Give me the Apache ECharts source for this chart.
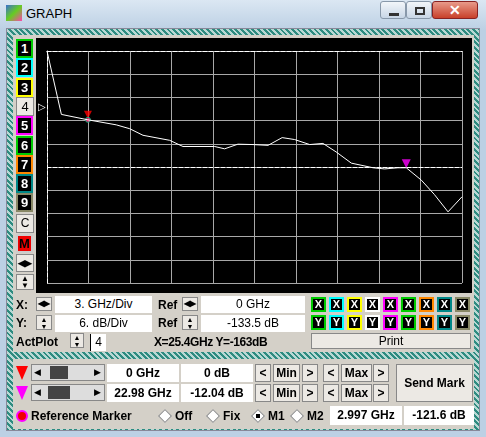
<!DOCTYPE html>
<html><head><meta charset="utf-8">
<script src="https://cdn.jsdelivr.net/npm/echarts@6/dist/echarts.min.js"></script>
<style>
*{box-sizing:border-box}
body{margin:0;width:486px;height:437px;overflow:hidden;font-family:Arial,"Liberation Sans",sans-serif;font-size:12px;background:#bcd0e4}
.abs{position:absolute}
#title{left:0;top:0;width:486px;height:30px;background:linear-gradient(#dbe7f3,#bcd0e4)}
#body{left:6px;top:28px;width:474px;height:403px;background:repeating-linear-gradient(45deg,#2e8b80 0 2px,#b8d8d4 2px 4px);border:1px solid #889}
.panel{background:#d4d0c8}
.btn{position:absolute;background:#ece9e4;border:1px solid #888;text-align:center;font-weight:bold;color:#000}
.box{position:absolute;background:#fff;text-align:center;font-weight:bold;}
.lb{position:absolute;font-weight:bold;}
.lk{position:absolute;width:17px;height:19px;background:#000;color:#fff;font-weight:bold;text-align:center;line-height:15px;font-size:13px;border:2px solid}
.xy{position:absolute;width:15px;height:15px;background:#000;color:#fff;font-weight:bold;text-align:center;line-height:11px;font-size:11px;border:2px solid}
</style></head><body>
<div id="title" class="abs"></div>
<div class="abs" style="left:6px;top:5px;width:16px;height:16px;background:linear-gradient(135deg,#3a6fd0,#6c2,#f4a)"></div>
<div class="abs" style="left:26px;top:6px;font-size:13px;color:#000">GRAPH</div>
<div class="abs" style="left:380px;top:1px;width:26px;height:18px;border:1px solid #8898aa;border-radius:3px;background:linear-gradient(#f2f6fa,#c8d6e6)"><div class="abs" style="left:8px;top:11px;width:10px;height:3px;background:#333"></div></div>
<div class="abs" style="left:406px;top:1px;width:26px;height:18px;border:1px solid #8898aa;border-radius:3px;background:linear-gradient(#f2f6fa,#c8d6e6)"><div class="abs" style="left:8px;top:5px;width:10px;height:8px;border:2px solid #333"></div></div>
<div class="abs" style="left:432px;top:1px;width:46px;height:18px;border:1px solid #822;border-radius:3px;background:linear-gradient(#e89a8a,#c8402a);color:#fff;font-weight:bold;text-align:center;font-size:14px;line-height:17px">✕</div>
<div id="body" class="abs"></div>
<div class="abs panel" style="left:13px;top:35px;width:461px;height:258px"></div>
<div class="abs" style="left:36px;top:38px;width:436px;height:255px;background:#000"></div>
<div id="c" class="abs" style="left:36px;top:38px;width:436px;height:255px"></div>
<div class="abs panel" style="left:13px;top:293px;width:461px;height:59px"></div>
<div class="abs panel" style="left:13px;top:359px;width:461px;height:70px"></div>
<div id="ui"></div>
<script>
const freqGHz=[0,1.04,2.96,5.01,5.98,6.94,8.87,9.83,12.12,12.84,13.8,14.9,15.98,17.0,17.9,18.99,19.95,20.9,22.0,23.57,24.4,25.37,25.97,27.06,28.0,28.99,30];
const levelDb=[0,-16.4,-17.8,-19.1,-20.1,-21.8,-23.1,-24.7,-24.7,-25.3,-24.1,-24.2,-24.4,-22.4,-22.9,-24.2,-23.9,-26.1,-29.0,-30.2,-30.5,-30.2,-30.2,-33.4,-37.1,-41.6,-37.7];
const refLevel=-30;
const marker1=[2.96,-17.8], marker2=[25.97,-30.2];
const chart=echarts.init(document.getElementById('c'));
chart.setOption({animation:false,
grid:{left:11,top:13,width:415,height:232},
xAxis:{type:'value',min:0,max:30,interval:3,axisLabel:{show:false},axisTick:{show:false},axisLine:{show:true,lineStyle:{color:'#fff',type:'dashed'}},splitLine:{lineStyle:{color:'#a8a8a8',width:1}}},
yAxis:{type:'value',min:-60,max:0,interval:6,axisLabel:{show:false},axisTick:{show:false},axisLine:{show:true,lineStyle:{color:'#fff',type:'dashed'}},splitLine:{lineStyle:{color:'#a8a8a8',width:1}}},
series:[
{type:'line',data:freqGHz.map((f,i)=>[f,levelDb[i]]),symbol:'none',lineStyle:{color:'#fff',width:1},
 markLine:{silent:true,symbol:'none',label:{show:false},lineStyle:{color:'#fff',type:'dashed',width:1},data:[{yAxis:refLevel}]}},
{type:'scatter',data:[marker1],symbol:'triangle',symbolRotate:180,symbolSize:8,symbolOffset:[0,-5],itemStyle:{color:'#f00'}},
{type:'scatter',data:[marker1],symbol:'circle',symbolSize:5,itemStyle:{color:'#f06',borderColor:'#0c8',borderWidth:1}},
{type:'scatter',data:[marker2],symbol:'triangle',symbolRotate:180,symbolSize:9,symbolOffset:[0,-4],itemStyle:{color:'#f0f'}}
]});
let h='';
const cols=['#0c0','#0ff','#ff0','#fff','#f0f','#0c0','#f80','#088','#886'];
for(let i=0;i<9;i++){
 const y=39+i*19.3;
 if(i==3) h+=`<div class="btn" style="left:16px;top:${y}px;width:18px;height:19px;font-size:13px;font-weight:normal;line-height:17px">4</div>`;
 else h+=`<div class="lk" style="left:16px;top:${y}px;border-color:${cols[i]}">${i+1}</div>`;
}
h+=`<div class="btn" style="left:16px;top:214px;width:18px;height:19px;font-weight:normal;line-height:17px">C</div>`;
h+=`<div class="lk" style="left:16px;top:234px;background:#e00;color:#000;border-color:#ccc">M</div>`;
h+=`<div class="btn" style="left:16px;top:254px;width:18px;height:18px;font-size:9px;line-height:16px">◀▶</div>`;
h+=`<div class="btn" style="left:16px;top:274px;width:18px;height:16px;font-size:8px;line-height:7px">▲<br>▼</div>`;
h+=`<div class="abs" style="left:38px;top:101px;color:#fff;font-size:10px">▷</div>`;
h+=`<div class="lb" style="left:16px;top:298px">X:</div><div class="lb" style="left:16px;top:316px">Y:</div><div class="lb" style="left:16px;top:335px">ActPlot</div>`;
h+=`<div class="btn" style="left:36px;top:297px;width:16px;height:14px;font-size:8px;line-height:12px">◀▶</div>`;
h+=`<div class="btn" style="left:36px;top:315px;width:16px;height:15px;font-size:7px;line-height:7px">▲<br>▼</div>`;
h+=`<div class="btn" style="left:70px;top:333px;width:14px;height:15px;font-size:7px;line-height:7px">▲<br>▼</div>`;
h+=`<div class="box" style="left:55px;top:296px;width:97px;height:17px;line-height:17px;font-weight:normal">3.  GHz/Div</div>`;
h+=`<div class="box" style="left:55px;top:315px;width:97px;height:17px;line-height:17px;font-weight:normal">6.  dB/Div</div>`;
h+=`<div class="box" style="left:90px;top:334px;width:16px;height:17px;line-height:17px;font-weight:normal;border-left:1px solid #000">4</div>`;
h+=`<div class="lb" style="left:158px;top:298px">Ref</div><div class="lb" style="left:158px;top:316px">Ref</div>`;
h+=`<div class="btn" style="left:182px;top:297px;width:16px;height:14px;font-size:8px;line-height:12px">◀▶</div>`;
h+=`<div class="btn" style="left:182px;top:315px;width:16px;height:15px;font-size:7px;line-height:7px">▲<br>▼</div>`;
h+=`<div class="box" style="left:201px;top:296px;width:104px;height:17px;line-height:17px;font-weight:normal">0  GHz</div>`;
h+=`<div class="box" style="left:201px;top:315px;width:104px;height:17px;line-height:17px;font-weight:normal">-133.5  dB</div>`;
h+=`<div class="lb" style="left:154px;top:335px;letter-spacing:-0.4px">X=25.4GHz Y=-163dB</div>`;
for(let i=0;i<9;i++){h+=`<div class="xy" style="left:${311+i*18}px;top:297px;border-color:${cols[i]}">X</div><div class="xy" style="left:${311+i*18}px;top:315px;border-color:${cols[i]}">Y</div>`;}
h+=`<div class="btn" style="left:311px;top:333px;width:160px;height:16px;line-height:14px;font-weight:normal">Print</div>`;
const rows=[[364,'#f00','0 GHz','0 dB',[50,68]],[384,'#f0f','22.98 GHz','-12.04 dB',[48,70]]];
rows.forEach(([y,c,a,b,k])=>{
 h+=`<div class="abs" style="left:16px;top:${y+2}px;width:0;height:0;border-left:6px solid transparent;border-right:6px solid transparent;border-top:14px solid ${c}"></div>`;
 h+=`<div class="abs" style="left:31px;top:${y}px;width:74px;height:17px;background:#ddd;border:1px solid #888"></div>`;
 h+=`<div class="abs" style="left:${k[0]}px;top:${y+2}px;width:${k[1]-k[0]}px;height:13px;background:#444"></div>`;
 h+=`<div class="abs" style="left:34px;top:${y+3}px;font-size:9px">◀</div><div class="abs" style="left:94px;top:${y+3}px;font-size:9px">▶</div>`;
 h+=`<div class="box" style="left:107px;top:${y}px;width:72px;height:18px;line-height:18px">${a}</div>`;
 h+=`<div class="box" style="left:181px;top:${y}px;width:72px;height:18px;line-height:18px">${b}</div>`;
 [[255,'&lt;',16],[273,'Min',27],[302,'&gt;',16],[323,'&lt;',16],[341,'Max',31],[373,'&gt;',16]].forEach(([x,t,w])=>h+=`<div class="btn" style="left:${x}px;top:${y}px;width:${w}px;height:18px;line-height:16px">${t}</div>`);
});
h+=`<div class="btn" style="left:396px;top:364px;width:77px;height:38px;line-height:36px">Send Mark</div>`;
h+=`<div class="abs" style="left:16px;top:410px;width:12px;height:12px;border-radius:6px;background:#e00;border:2px solid #f0f"></div>`;
h+=`<div class="lb" style="left:31px;top:409px">Reference Marker</div>`;
[[160,'Off',0],[208,'Fix',0],[253,'M1',1],[292,'M2',0]].forEach(([x,t,s])=>h+=`<div class="abs" style="left:${x}px;top:411px;width:10px;height:10px;transform:rotate(45deg);border:1px solid #888;background:#fff"></div>${s?`<div class="abs" style="left:${x+3}px;top:414px;width:4px;height:4px;background:#000"></div>`:''}<div class="lb" style="left:${x+15}px;top:409px">${t}</div>`);
h+=`<div class="box" style="left:330px;top:406px;width:72px;height:19px;line-height:19px">2.997 GHz</div>`;
h+=`<div class="box" style="left:404px;top:406px;width:70px;height:19px;line-height:19px">-121.6 dB</div>`;
document.getElementById('ui').innerHTML=h;
</script></body></html>
